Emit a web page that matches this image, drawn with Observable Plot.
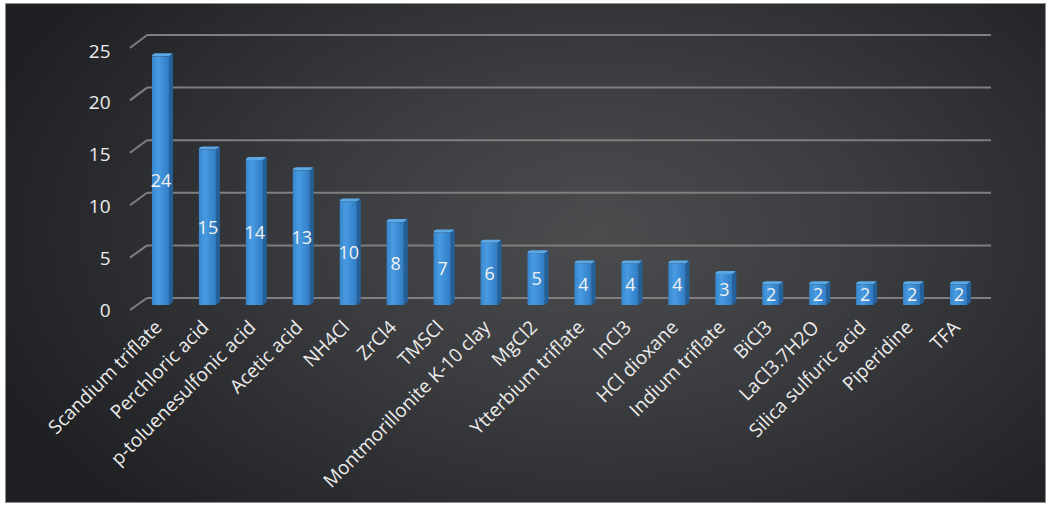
<!DOCTYPE html>
<html>
<head>
<meta charset="utf-8">
<script src="https://cdn.jsdelivr.net/npm/d3@7"></script>
<script src="https://cdn.jsdelivr.net/npm/@observablehq/plot@0.6"></script>
<style>
  html, body { margin: 0; padding: 0; background: #ffffff; }
  #wrap { position: relative; width: 1050px; height: 507px; overflow: hidden; }
  #frame {
    position: absolute; left: 5px; top: 3px; width: 1039px; height: 498px;
    border: 1px solid #8e8e8e;
    background: radial-gradient(ellipse 62% 80% at 57% 46%, #4b4c4e 0%, #3c3d40 40%, #1f2023 100%);
  }
  #chart { position: absolute; left: 0; top: 0; width: 1050px; height: 507px; }
  #chart svg { max-width: none !important; }
</style>
</head>
<body>
<div id="wrap"><div id="frame"></div><div id="chart"></div></div>
<script>
const categories = [
  "Scandium triflate", "Perchloric acid", "p-toluenesulfonic acid", "Acetic acid",
  "NH4Cl", "ZrCl4", "TMSCl", "Montmorillonite K-10 clay", "MgCl2",
  "Ytterbium triflate", "InCl3", "HCl dioxane", "Indium triflate", "BiCl3",
  "LaCl3.7H2O", "Silica sulfuric acid", "Piperidine", "TFA"
];
const counts = [24, 15, 14, 13, 10, 8, 7, 6, 5, 4, 4, 4, 3, 2, 2, 2, 2, 2];
const yTicks = [0, 5, 10, 15, 20, 25];

const data = categories.map((c, i) => ({catalyst: c, count: counts[i]}));

// back-wall gridlines and perspective floor ticks, through Plot's y scale
function wallGrid(index, scales, values, dims) {
  const y = scales.y;
  const g = d3.create("svg:g").attr("stroke", "#7f7f7f").attr("stroke-width", 2);
  const left = dims.marginLeft, right = dims.width - dims.marginRight;
  for (const t of yTicks) {
    const yb = y(t) - 7 - t * 0.16;   // back plane
    const yf = y(t) + 5 - t * 0.12;   // front edge
    g.append("line").attr("x1", left + 10).attr("x2", right + 9).attr("y1", yb).attr("y2", yb);
    g.append("line").attr("x1", left - 7).attr("y1", yf).attr("x2", left + 10).attr("y2", yb);
  }
  return g.node();
}

// 3D bars drawn through Plot's scales
function bars3d(index, scales) {
  const x = scales.x, y = scales.y;
  const g = d3.create("svg:g");
  const defs = g.append("defs");
  const grad = defs.append("linearGradient").attr("id", "barFront")
    .attr("x1", 0).attr("x2", 1).attr("y1", 0).attr("y2", 0);
  grad.append("stop").attr("offset", 0).attr("stop-color", "#3686ce");
  grad.append("stop").attr("offset", 0.35).attr("stop-color", "#499be1");
  grad.append("stop").attr("offset", 1).attr("stop-color", "#307cc4");
  const w = 17, sx = 4, sy = 3;
  for (const d of data) {
    const cx = x(d.catalyst) + x.bandwidth() / 2;
    const x0 = cx - w / 2, x1 = cx + w / 2;
    const yt = y(d.count), yb = y(0);
    g.append("path")
      .attr("d", `M${x1},${yb}L${x1},${yt}L${x1 + sx},${yt - sy}L${x1 + sx},${yb - sy}Z`)
      .attr("fill", "#24619b");
    g.append("path")
      .attr("d", `M${x0},${yt}Q${x0},${yt - sy} ${x0 + sx},${yt - sy}L${x1 + sx - 1},${yt - sy}Q${x1 + sx},${yt - sy} ${x1},${yt}Z`)
      .attr("fill", "#5aa9e6");
    g.append("rect")
      .attr("x", x0).attr("y", yt).attr("width", w).attr("height", yb - yt)
      .attr("fill", "url(#barFront)");
  }
  return g.node();
}

const chart = Plot.plot({
  width: 1050,
  height: 507,
  marginLeft: 137,
  marginRight: 68,
  marginTop: 46,
  marginBottom: 202,
  style: {background: "transparent", fontFamily: "'Open Sans', sans-serif", color: "#ececec"},
  x: {type: "band", domain: categories, range: [137, 982], padding: 0, round: false, axis: null},
  y: {domain: [0, 25], range: [305, 46], axis: null},
  marks: [
    wallGrid,
    bars3d,
    Plot.text(data, {x: "catalyst", y: d => d.count / 2, text: d => String(d.count), fill: "#f2f2f2", fontSize: 18}),
    Plot.text(yTicks, {y: d => d, text: d => String(d), frameAnchor: "left", dx: -27, dy: 5, textAnchor: "end", fill: "#ececec", fontSize: 19}),
    Plot.text(data, {x: "catalyst", text: "catalyst", frameAnchor: "bottom", dy: 23, dx: 2, rotate: -45, textAnchor: "end", fill: "#ececec", fontSize: 19})
  ]
});
document.getElementById("chart").appendChild(chart);
</script>
</body>
</html>
